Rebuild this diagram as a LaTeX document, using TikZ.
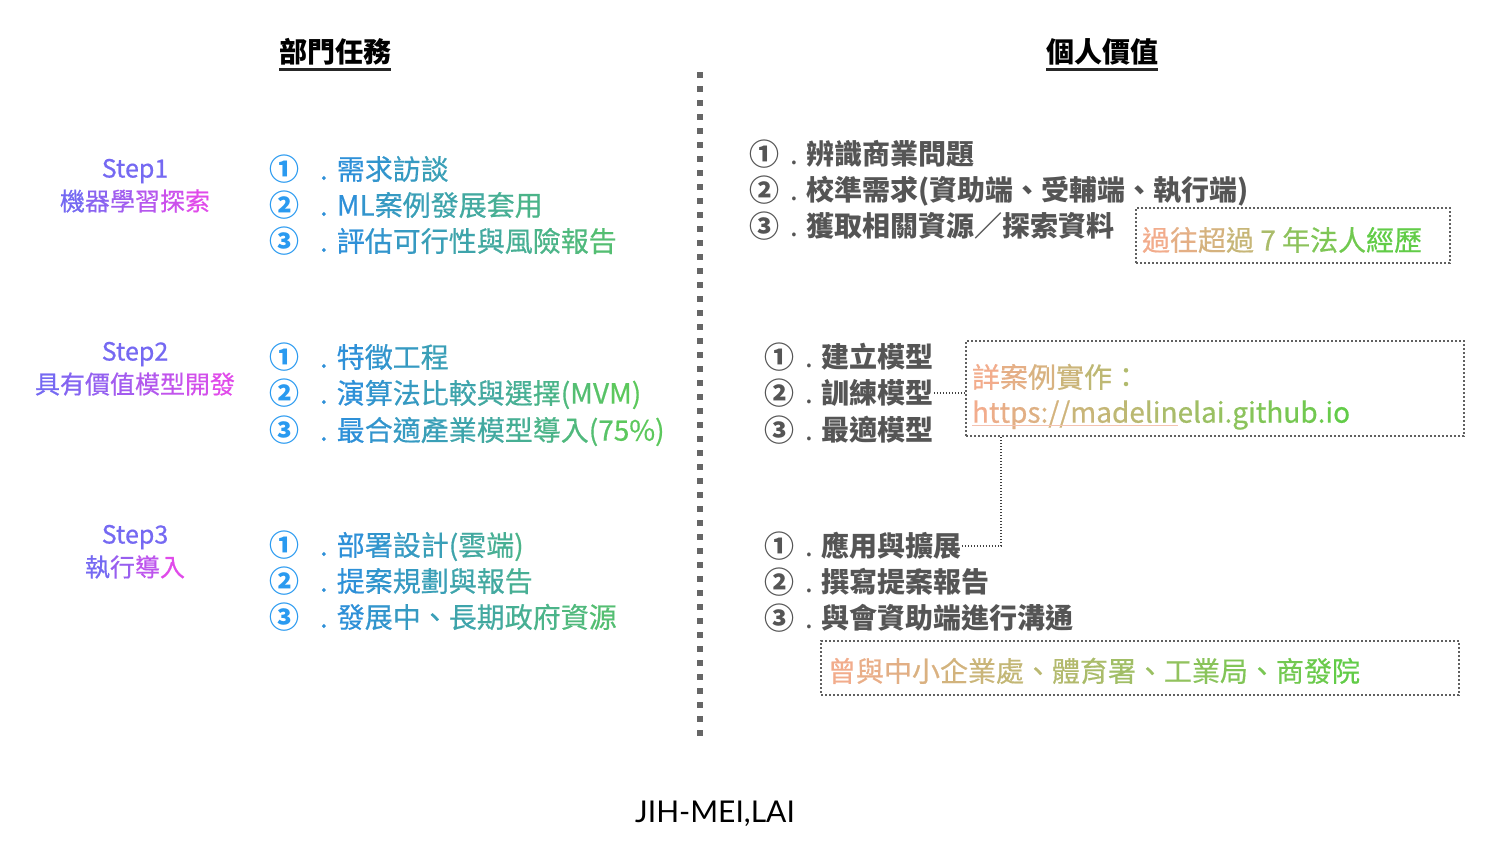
\documentclass[tikz,border=0pt]{standalone}
\usepackage{fontspec}
\setmainfont{Noto Sans CJK TC}
\newfontfamily\cjkmed{Noto Sans CJK TC}[FakeBold=0.6]
\newfontfamily\latofont{Lato}
\definecolor{numblue}{HTML}{2A9AF0}
\definecolor{lblue}{HTML}{2E90D8}
\definecolor{lgreen}{HTML}{5CC85C}
\definecolor{spurple}{HTML}{7569F2}
\definecolor{spink}{HTML}{E04BEA}
\definecolor{rgray}{HTML}{555555}
\definecolor{bsalmon}{HTML}{F2AC8C}
\definecolor{bgreen}{HTML}{62CC48}
\definecolor{boxgray}{HTML}{606060}
\definecolor{conngray}{HTML}{404040}
\definecolor{dashgray}{HTML}{666666}
\definecolor{ulsalmon}{HTML}{F4C2B0}
\ExplSyntaxOn
\int_new:N \l__gr_i_int
\int_new:N \l__gr_p_int
\tl_new:N \l__gr_c_tl
\NewDocumentCommand \gradtext { m m m m }
  {
    \int_zero:N \l__gr_i_int
    \tl_map_inline:nn {#4}
      {
        \int_set:Nn \l__gr_p_int { \int_min:nn {100} { (100 * \l__gr_i_int) / (#3 - 1) } }
        \int_incr:N \l__gr_i_int
        \tl_set:Nx \l__gr_c_tl { #2 ! \int_use:N \l__gr_p_int ! #1 }
        \exp_args:NV \textcolor \l__gr_c_tl {##1}
      }
  }
\ExplSyntaxOff
\tikzset{
  txt/.style={inner sep=0pt, outer sep=0pt},
  t14/.style={txt, text height=12.32pt, text depth=1.68pt},
  hdr/.style={t14, font=\bfseries\fontsize{14}{16}\selectfont, text=black},
  steplbl/.style={txt, text height=11pt, text depth=1.5pt, font=\cjkmed\fontsize{12.5}{14}\selectfont},
  num/.style={txt, text height=13.2pt, text depth=1.8pt, font=\bfseries\fontsize{15}{17}\selectfont, text=numblue},
  litem/.style={t14, anchor=west, font=\cjkmed\fontsize{14}{16}\selectfont},
  rnum/.style={txt, text height=13.2pt, text depth=1.8pt, font=\bfseries\fontsize{15}{17}\selectfont, text=rgray},
  ritem/.style={t14, anchor=west, font=\bfseries\fontsize{14}{16}\selectfont, text=rgray},
  btxt/.style={t14, anchor=west, font=\cjkmed\fontsize{14}{16}\selectfont},
  dbox/.style={draw=boxgray, line width=1pt, dash pattern=on 1pt off 1pt, inner sep=0pt},
  conn/.style={draw=conngray, line width=0.75pt, dash pattern=on 0.75pt off 0.75pt},
  uline/.style={draw=black!85, line width=1.5pt},
  vdash/.style={draw=dashgray, line width=3pt, dash pattern=on 3pt off 4pt}
}
\newcommand{\litxt}[1]{\textcolor{lblue}{.}\hspace{4.5pt}\gradtext{lblue}{lgreen}{12}{#1}}
\newcommand{\ritxt}[1]{{\mdseries.}\hspace{4.5pt}#1}
\begin{document}
\begin{tikzpicture}[x=0.5pt,y=-0.5pt]
\useasboundingbox (0,0) rectangle (1488,846);
% headers
\node[hdr] (h1) at (335,52) {部門任務};
\node[hdr] (h2) at (1102,52) {個人價值};
\draw[uline] ([yshift=-1.5pt]h1.south west) -- ([yshift=-1.5pt]h1.south east);
\draw[uline] ([yshift=-1.5pt]h2.south west) -- ([yshift=-1.5pt]h2.south east);
% divider
\coordinate (vt) at (700,72);
\coordinate (vb) at (700,737);
\draw[vdash] (vt) -- (vb);
% step labels
\node[steplbl, text=spurple] (s1a) at (135,168) {Step1};
\node[steplbl] (s1b) at (135,201) {\gradtext{spurple}{spink}{6}{機器學習探索}};
\node[steplbl, text=spurple] (s2a) at (135,351) {Step2};
\node[steplbl] (s2b) at (135,384) {\gradtext{spurple}{spink}{8}{具有價值模型開發}};
\node[steplbl, text=spurple] (s3a) at (135,534) {Step3};
\node[steplbl] (s3b) at (135,567) {\gradtext{spurple}{spink}{4}{執行導入}};
% left items
\node[num] (n11) at (284,169) {①};
\node[litem] (i11) at (320,169) {\litxt{需求訪談}};
\node[num] (n12) at (284,205) {②};
\node[litem] (i12) at (320,205) {\litxt{ML案例發展套用}};
\node[num] (n13) at (284,241) {③};
\node[litem] (i13) at (320,241) {\litxt{評估可行性與風險報告}};
\node[num] (n21) at (284,357) {①};
\node[litem] (i21) at (320,357) {\litxt{特徵工程}};
\node[num] (n22) at (284,393) {②};
\node[litem] (i22) at (320,393) {\litxt{演算法比較與選擇(MVM)}};
\node[num] (n23) at (284,430) {③};
\node[litem] (i23) at (320,430) {\litxt{最合適產業模型導入(75\%)}};
\node[num] (n31) at (284,545) {①};
\node[litem] (i31) at (320,545) {\litxt{部署設計(雲端)}};
\node[num] (n32) at (284,581) {②};
\node[litem] (i32) at (320,581) {\litxt{提案規劃與報告}};
\node[num] (n33) at (284,617) {③};
\node[litem] (i33) at (320,617) {\litxt{發展中、長期政府資源}};
% right group 1
\node[rnum] (r11) at (764,154) {①};
\node[ritem] (t11) at (790,154) {\ritxt{辨識商業問題}};
\node[rnum] (r12) at (764,190) {②};
\node[ritem] (t12) at (790,190) {\ritxt{校準需求(資助端、受輔端、執行端)}};
\node[rnum] (r13) at (764,226) {③};
\node[ritem] (t13) at (790,226) {\ritxt{獲取相關資源／探索資料}};
\node[dbox, minimum width=157pt, minimum height=27.5pt] (b1) at (1293,235.5) {};
\node[btxt] (b1t) at (1142,240) {\gradtext{bsalmon}{bgreen}{11}{過往超過\ 7\ 年法人經歷}};
% right group 2
\node[rnum] (r21) at (779,357) {①};
\node[ritem] (t21) at (805,357) {\ritxt{建立模型}};
\node[rnum] (r22) at (779,393) {②};
\node[ritem] (t22) at (805,393) {\ritxt{訓練模型}};
\node[rnum] (r23) at (779,430) {③};
\node[ritem] (t23) at (805,430) {\ritxt{最適模型}};
\node[dbox, minimum width=249pt, minimum height=47.5pt] (b2) at (1215,388.5) {};
\node[btxt] (b2a) at (972,377) {\gradtext{bsalmon}{bgreen}{12}{詳案例實作：}};
\node[btxt] (b2b) at (972,412) {\gradtext{bsalmon}{bgreen}{29}{https://madelinelai.github.io}};
\draw[draw=ulsalmon, line width=0.6pt] ([yshift=-1.5pt]b2b.base west) -- ([yshift=-1.5pt,xshift=103pt]b2b.base west);
% right group 3
\node[rnum] (r31) at (779,546) {①};
\node[ritem] (t31) at (805,546) {\ritxt{應用與擴展}};
\node[rnum] (r32) at (779,582) {②};
\node[ritem] (t32) at (805,582) {\ritxt{撰寫提案報告}};
\node[rnum] (r33) at (779,618) {③};
\node[ritem] (t33) at (805,618) {\ritxt{與會資助端進行溝通}};
\node[dbox, minimum width=319pt, minimum height=27pt] (b3) at (1140,668) {};
\node[btxt] (b3t) at (828,671) {\gradtext{bsalmon}{bgreen}{19}{曾與中小企業處、體育署、工業局、商發院}};
% connectors
\draw[conn] (t22.east) -- (t22.east -| b2.west);
\draw[conn] (t31.east) -| ([xshift=18pt]b2.south west);
% footer
\node[txt, text height=10.8pt, text depth=0pt, font=\latofont\fontsize{15}{18}\selectfont, text=black] (ft) at (715,812) {JIH-MEI,LAI};
\end{tikzpicture}
\end{document}
